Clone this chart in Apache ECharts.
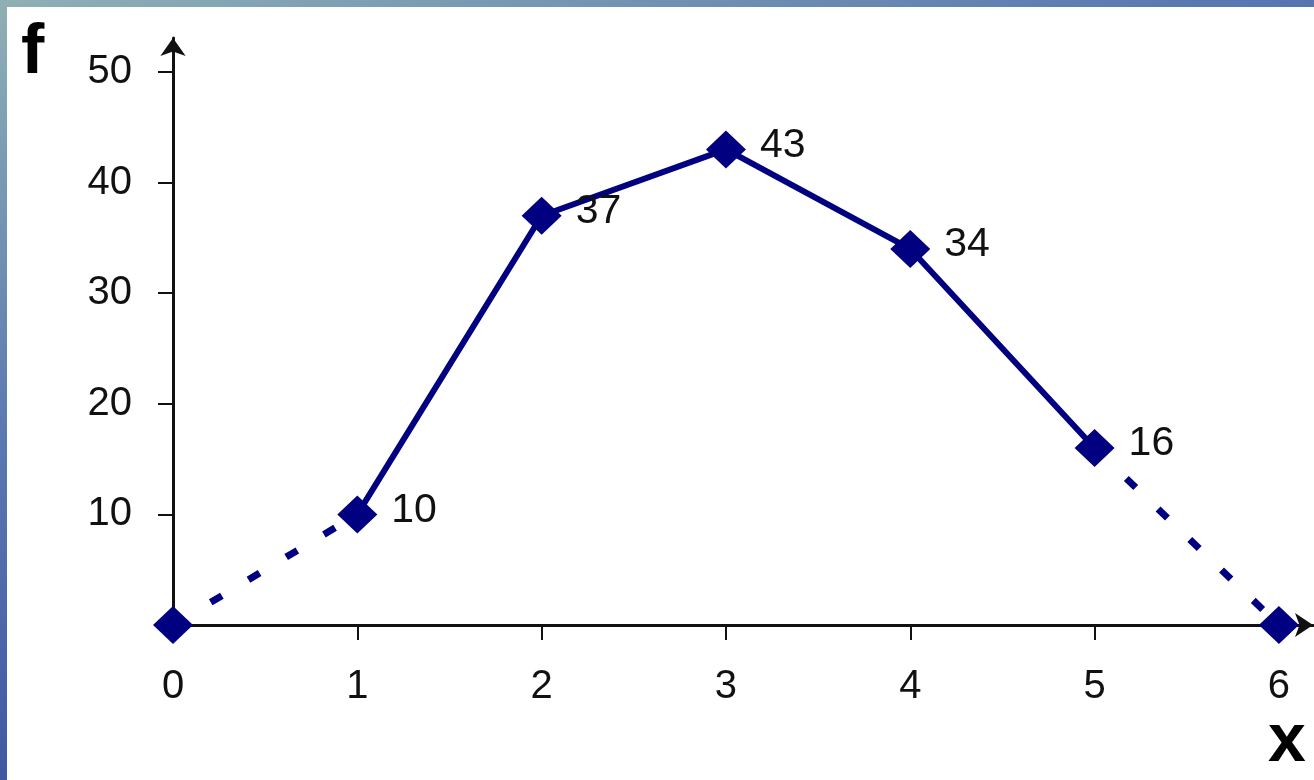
<!DOCTYPE html>
<html>
<head>
<meta charset="utf-8">
<script src="https://cdn.jsdelivr.net/npm/echarts@6/dist/echarts.min.js"></script>
<style>
  html, body { margin: 0; padding: 0; }
  body { width: 1314px; height: 780px; overflow: hidden; position: relative;
    background: linear-gradient(160deg, #8fb0b4 0%, #5a78b0 35%, #3a4f9e 70%, #1d3c86 100%); }
  #paper { position: absolute; left: 7px; top: 7px; right: 0; bottom: 0; background: #fff; }
  #chart { position: absolute; left: 0; top: 0; width: 1314px; height: 780px; }
</style>
</head>
<body>
<div id="paper"></div>
<div id="chart"></div>
<script>
const xValues = [0, 1, 2, 3, 4, 5, 6];
const freq = [0, 10, 37, 43, 34, 16, 0];
const xTickLabels = [0, 1, 2, 3, 4, 5, 6];
const yTickLabels = [10, 20, 30, 40, 50];

const points = xValues.map((x, i) => [x, freq[i]]);
const solidPart = points.slice(1, 6);
const leftTail = points.slice(0, 2);
const rightTail = points.slice(5, 7);

const navy = '#000080';
const font = 'Liberation Sans, Arial, sans-serif';
const chart = echarts.init(document.getElementById('chart'));

const dashed = (data) => ({
  type: 'line',
  data: data,
  symbol: 'none',
  silent: true,
  z: 2,
  lineStyle: { color: navy, width: 7, type: [13, 31], cap: 'butt' }
});

chart.setOption({
  animation: false,
  grid: { left: 173, top: 38, width: 1140, height: 587 },
  xAxis: {
    type: 'value',
    min: 0,
    max: 6.185,
    splitLine: { show: false },
    axisLine: {
      onZero: false,
      lineStyle: { color: '#111', width: 3 },
      symbol: ['none', 'arrow'],
      symbolSize: [18, 18]
    },
    axisTick: { customValues: [1, 2, 3, 4, 5, 6], length: 15, lineStyle: { color: '#111', width: 2 } },
    axisLabel: {
      customValues: xTickLabels,
      margin: 42,
      color: '#111',
      fontSize: 40,
      fontFamily: font
    }
  },
  yAxis: {
    type: 'value',
    min: 0,
    max: 53.07,
    splitLine: { show: false },
    axisLine: {
      onZero: false,
      lineStyle: { color: '#111', width: 3 },
      symbol: ['none', 'arrow'],
      symbolSize: [19, 18]
    },
    axisTick: { customValues: yTickLabels, length: 15, lineStyle: { color: '#111', width: 2 } },
    axisLabel: {
      customValues: yTickLabels,
      margin: 41,
      color: '#111',
      fontSize: 40,
      fontFamily: font
    }
  },
  series: [
    dashed(leftTail),
    dashed(rightTail),
    {
      type: 'line',
      data: solidPart,
      symbol: 'none',
      z: 3,
      lineStyle: { color: navy, width: 6 }
    },
    {
      type: 'scatter',
      data: points,
      symbol: 'diamond',
      symbolSize: [40, 38],
      z: 4,
      itemStyle: { color: navy, opacity: 1 },
      label: {
        show: true,
        position: 'right',
        distance: 14,
        offset: [0, -4],
        color: '#111',
        fontSize: 41,
        fontFamily: font,
        formatter: (p) => (p.value[1] > 0 ? String(p.value[1]) : '')
      }
    }
  ],
  graphic: [
    { type: 'text', left: 21, top: 19, style: { text: 'f', fontSize: 70, fontWeight: 'bold', fill: '#000', fontFamily: font } },
    { type: 'text', left: 1268, top: 708, style: { text: 'x', fontSize: 68, fontWeight: 'bold', fill: '#000', fontFamily: font } }
  ]
});
</script>
</body>
</html>
